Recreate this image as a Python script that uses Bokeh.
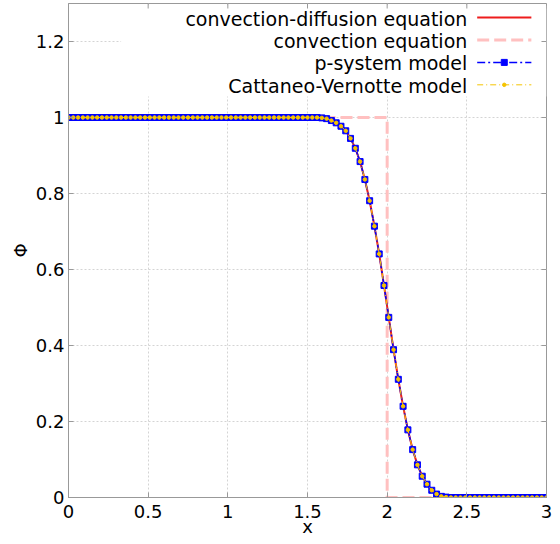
from bokeh.plotting import figure
from bokeh.models import Range1d, BoxAnnotation, Label, FixedTicker
from bokeh.embed import file_html
from bokeh.resources import INLINE

# ---------------- data ----------------
x_vals = [round(0.03 * i, 2) for i in range(101)]

profile = ([1.0] * 53 +
           [0.999, 0.997, 0.992, 0.986, 0.977, 0.965, 0.945, 0.919, 0.884, 0.837,
            0.781, 0.714, 0.641, 0.558, 0.474, 0.389, 0.311, 0.240, 0.178, 0.126,
            0.086, 0.056, 0.035, 0.019, 0.009, 0.003, 0.001] +
           [0.0] * 21)

conv_diff_y = list(profile)
p_system_y = list(profile)
cattaneo_y = list(profile)

conv_x = [0.0, 2.0, 2.0, 3.0]
conv_y = [1.0, 1.0, 0.0, 0.0]

x_ticks = [0, 0.5, 1, 1.5, 2, 2.5, 3]
x_tick_labels = ["0", "0.5", "1", "1.5", "2", "2.5", "3"]
y_ticks = [0, 0.2, 0.4, 0.6, 0.8, 1.0, 1.2]
y_tick_labels = ["0", "0.2", "0.4", "0.6", "0.8", "1", "1.2"]

legend_labels = ["convection-diffusion equation", "convection equation",
                 "p-system model", "Cattaneo-Vernotte model"]

X0, X1, Y0, Y1 = 0.0, 3.0, 0.0, 1.3

FONT = "DejaVu Sans"
GRID = "#d4d4d4"
FRAME = "#999999"

# ---------------- figure ----------------
p = figure(width=560, height=544, x_range=Range1d(X0, X1), y_range=Range1d(Y0, Y1),
           output_backend="svg", toolbar_location=None,
           min_border_left=68, min_border_right=14, min_border_top=3, min_border_bottom=47)
p.outline_line_color = FRAME
p.background_fill_color = "white"
p.border_fill_color = "white"

xa, ya = p.xaxis[0], p.yaxis[0]
xa.ticker = FixedTicker(ticks=x_ticks)
ya.ticker = FixedTicker(ticks=y_ticks)
xa.major_label_overrides = {v: s for v, s in zip(x_ticks, x_tick_labels)}
ya.major_label_overrides = {v: s for v, s in zip(y_ticks, y_tick_labels)}
for ax in (xa, ya):
    ax.axis_line_color = FRAME
    ax.major_tick_line_color = FRAME
    ax.major_tick_in = 5
    ax.major_tick_out = 0
    ax.minor_tick_line_color = None
    ax.major_label_text_font = FONT
    ax.major_label_text_font_size = "18px"
    ax.major_label_text_color = "black"
    ax.axis_label_text_font = FONT
    ax.axis_label_text_font_size = "18px"
    ax.axis_label_text_font_style = "normal"
    ax.axis_label_text_color = "black"
xa.major_label_standoff = 7
ya.major_label_standoff = 4
ya.major_label_text_baseline = "top"
xa.axis_label = "x"
ya.axis_label = "Φ"
xa.axis_label_standoff = -5
ya.axis_label_standoff = 2

p.xgrid.ticker = FixedTicker(ticks=x_ticks)
p.ygrid.ticker = FixedTicker(ticks=y_ticks)
for g in (p.xgrid[0], p.ygrid[0]):
    g.grid_line_color = GRID
    g.grid_line_dash = "2 2"
    g.grid_line_width = 1

# legend background (white, no border), covers grid lines
p.add_layout(BoxAnnotation(left=0.33, right=X1, bottom=1.055, top=1.295,
                           fill_color="white", fill_alpha=1.0, line_color=None,
                           level="underlay"))

# mirror ticks on top and right edges (inward)
tick_dx = 5 / 159.3
tick_dy = 5 / 380.0
p.segment(x0=x_ticks, y0=[Y1] * len(x_ticks), x1=x_ticks, y1=[Y1 - tick_dy] * len(x_ticks),
          line_color=FRAME, line_width=1)
p.segment(x0=[X1] * len(y_ticks), y0=y_ticks, x1=[X1 - tick_dx] * len(y_ticks), y1=y_ticks,
          line_color=FRAME, line_width=1)

# ---------------- series ----------------
RED = "#ee1c1c"
PINK = "#ffc0c0"
BLUE = "#0000ff"
GOLD = "#f5c400"

p.line(conv_x, conv_y, line_color=PINK, line_width=3, line_dash="12 5")
p.line(x_vals, conv_diff_y, line_color=RED, line_width=2)
p.line(x_vals, p_system_y, line_color=BLUE, line_width=1.5, line_dash="8 3 2 3")
p.scatter(x_vals, p_system_y, marker="square", size=6, fill_color=BLUE, line_color=BLUE)
p.line(x_vals, cattaneo_y, line_color=GOLD, line_width=1, line_dash="6 3 1 3")
p.scatter(x_vals, cattaneo_y, marker="circle", size=3.5, fill_color=GOLD, line_color=GOLD)

# ---------------- legend (labels left, samples right) ----------------
leg_rows = [1.263, 1.204, 1.145, 1.086]
sx0, sx1, sxm = 2.565, 2.905, 2.735
p.line([sx0, sx1], [leg_rows[0]] * 2, line_color=RED, line_width=2)
p.line([sx0, sx1], [leg_rows[1]] * 2, line_color=PINK, line_width=3, line_dash="12 5")
p.line([sx0, sx1], [leg_rows[2]] * 2, line_color=BLUE, line_width=1.5, line_dash="8 3 2 3")
p.scatter([sxm], [leg_rows[2]], marker="square", size=6, fill_color=BLUE, line_color=BLUE)
p.line([sx0, sx1], [leg_rows[3]] * 2, line_color=GOLD, line_width=1, line_dash="6 3 1 3")
p.scatter([sxm], [leg_rows[3]], marker="circle", size=3.5, fill_color=GOLD, line_color=GOLD)

for txt, yy in zip(legend_labels, leg_rows):
    p.add_layout(Label(x=2.503, y=yy, text=txt, text_align="right", text_baseline="middle",
                       text_font=FONT, text_font_size="19px", text_color="black",
                       y_offset=-1))

open("out.html", "w").write(file_html(p, INLINE))
